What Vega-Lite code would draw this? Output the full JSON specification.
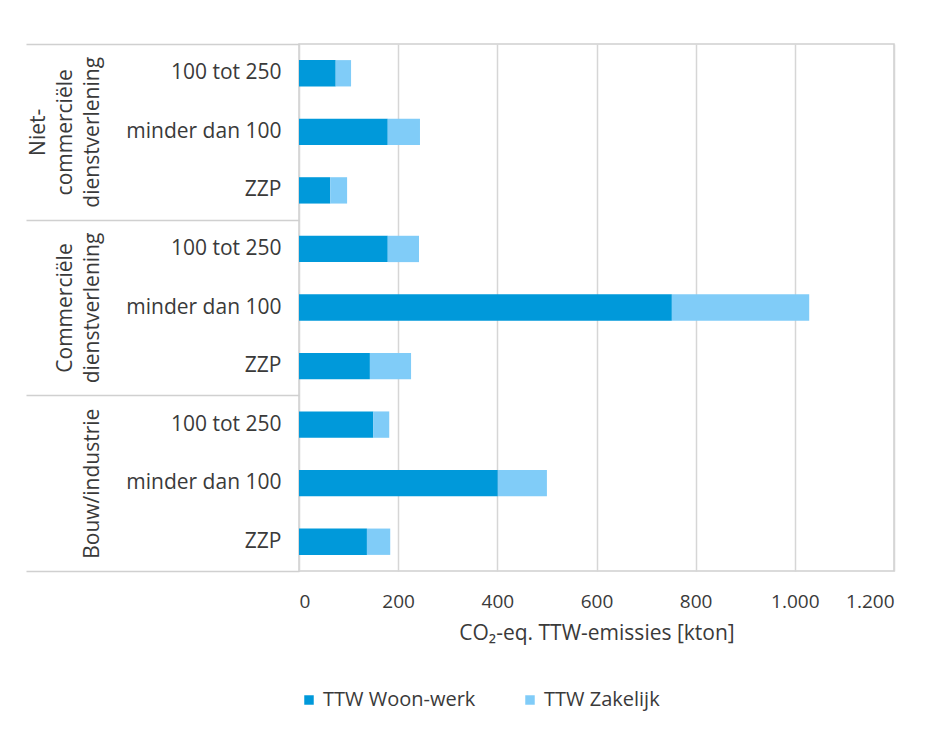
{
  "$schema": "https://vega.github.io/schema/vega-lite/v6.json",
  "width": 595,
  "height": 527,
  "padding": {"left": 25, "top": 43, "right": 20, "bottom": 5},
  "background": "white",
  "datasets": {
    "bars": [
      {"key": "N|100 tot 250", "group": "Niet-commerciële dienstverlening", "series": "TTW Woon-werk", "value": 74},
      {"key": "N|100 tot 250", "group": "Niet-commerciële dienstverlening", "series": "TTW Zakelijk", "value": 31},
      {"key": "N|minder dan 100", "group": "Niet-commerciële dienstverlening", "series": "TTW Woon-werk", "value": 179},
      {"key": "N|minder dan 100", "group": "Niet-commerciële dienstverlening", "series": "TTW Zakelijk", "value": 65},
      {"key": "N|ZZP", "group": "Niet-commerciële dienstverlening", "series": "TTW Woon-werk", "value": 63},
      {"key": "N|ZZP", "group": "Niet-commerciële dienstverlening", "series": "TTW Zakelijk", "value": 34},
      {"key": "C|100 tot 250", "group": "Commerciële dienstverlening", "series": "TTW Woon-werk", "value": 179},
      {"key": "C|100 tot 250", "group": "Commerciële dienstverlening", "series": "TTW Zakelijk", "value": 63},
      {"key": "C|minder dan 100", "group": "Commerciële dienstverlening", "series": "TTW Woon-werk", "value": 752},
      {"key": "C|minder dan 100", "group": "Commerciële dienstverlening", "series": "TTW Zakelijk", "value": 277},
      {"key": "C|ZZP", "group": "Commerciële dienstverlening", "series": "TTW Woon-werk", "value": 143},
      {"key": "C|ZZP", "group": "Commerciële dienstverlening", "series": "TTW Zakelijk", "value": 83},
      {"key": "B|100 tot 250", "group": "Bouw/industrie", "series": "TTW Woon-werk", "value": 150},
      {"key": "B|100 tot 250", "group": "Bouw/industrie", "series": "TTW Zakelijk", "value": 32},
      {"key": "B|minder dan 100", "group": "Bouw/industrie", "series": "TTW Woon-werk", "value": 401},
      {"key": "B|minder dan 100", "group": "Bouw/industrie", "series": "TTW Zakelijk", "value": 99},
      {"key": "B|ZZP", "group": "Bouw/industrie", "series": "TTW Woon-werk", "value": 137},
      {"key": "B|ZZP", "group": "Bouw/industrie", "series": "TTW Zakelijk", "value": 47}
    ],
    "groups": [
      {"group": "Niet-commerciële dienstverlening"},
      {"group": "Commerciële dienstverlening"},
      {"group": "Bouw/industrie"}
    ]
  },
  "layer": [
    {
      "data": {"name": "bars"},
      "mark": {"type": "bar"},
      "encoding": {
        "y": {
          "field": "key",
          "type": "nominal",
          "sort": null,
          "scale": {"paddingInner": 0.55, "paddingOuter": 0.275},
          "axis": {
            "title": null,
            "orient": "left",
            "domain": false,
            "ticks": false,
            "labelPadding": 18,
            "labelFontSize": 21,
            "labelExpr": "split(datum.value, '|')[1]"
          }
        },
        "x": {
          "field": "value",
          "type": "quantitative",
          "stack": "zero",
          "scale": {"domain": [0, 1200], "nice": false},
          "axis": {
            "values": [0, 200, 400, 600, 800, 1000, 1200],
            "labelExpr": "replace(format(datum.value, ','), ',', '.')",
            "title": "CO₂-eq. TTW-emissies [kton]",
            "domain": false,
            "ticks": false,
            "grid": true,
            "gridColor": "#d6d6d6",
            "gridWidth": 1.5,
            "labelPadding": 21,
            "labelFontSize": 19,
            "titleFontSize": 21,
            "titleFontWeight": "normal",
            "titlePadding": 11
          }
        },
        "color": {
          "field": "series",
          "type": "nominal",
          "scale": {"domain": ["TTW Woon-werk", "TTW Zakelijk"], "range": ["#0099DA", "#80CCF8"]},
          "legend": {
            "title": null,
            "orient": "bottom",
            "direction": "horizontal",
            "symbolType": "square",
            "symbolSize": 90,
            "labelFontSize": 20,
            "columnPadding": 44,
            "labelOffset": 4,
            "offset": 47
          }
        },
        "order": {"field": "series", "type": "nominal"}
      }
    },
    {
      "data": {"name": "groups"},
      "mark": {"type": "point", "opacity": 0},
      "encoding": {
        "y": {
          "field": "group",
          "type": "nominal",
          "sort": null,
          "scale": {"paddingInner": 0, "paddingOuter": 0},
          "axis": {
            "title": null,
            "orient": "left",
            "domain": false,
            "ticks": true,
            "tickBand": "extent",
            "tickSize": 273,
            "tickColor": "#d0d0d0",
            "tickWidth": 1.5,
            "labelAngle": -90,
            "labelAlign": "center",
            "labelBaseline": "bottom",
            "labelPadding": {
              "condition": [
                {"test": "datum.value == 'Bouw/industrie'", "value": -76},
                {"test": "datum.value == 'Commerciële dienstverlening'", "value": -49}
              ],
              "value": -22
            },
            "labelFontSize": 21,
            "labelLineHeight": 27,
            "labelExpr": "datum.value == 'Niet-commerciële dienstverlening' ? ['Niet-', 'commerciële', 'dienstverlening'] : datum.value == 'Commerciële dienstverlening' ? ['Commerciële', 'dienstverlening'] : datum.value == 'Bouw/industrie' ? 'Bouw/industrie' : ''"
          }
        }
      }
    }
  ],
  "resolve": {"scale": {"y": "independent"}, "axis": {"y": "independent"}},
  "config": {
    "font": "Open Sans",
    "view": {"stroke": "#d0d0d0", "strokeWidth": 1.5},
    "axis": {"labelColor": "#3a3a3a", "titleColor": "#3a3a3a"},
    "legend": {"labelColor": "#3a3a3a"}
  }
}
